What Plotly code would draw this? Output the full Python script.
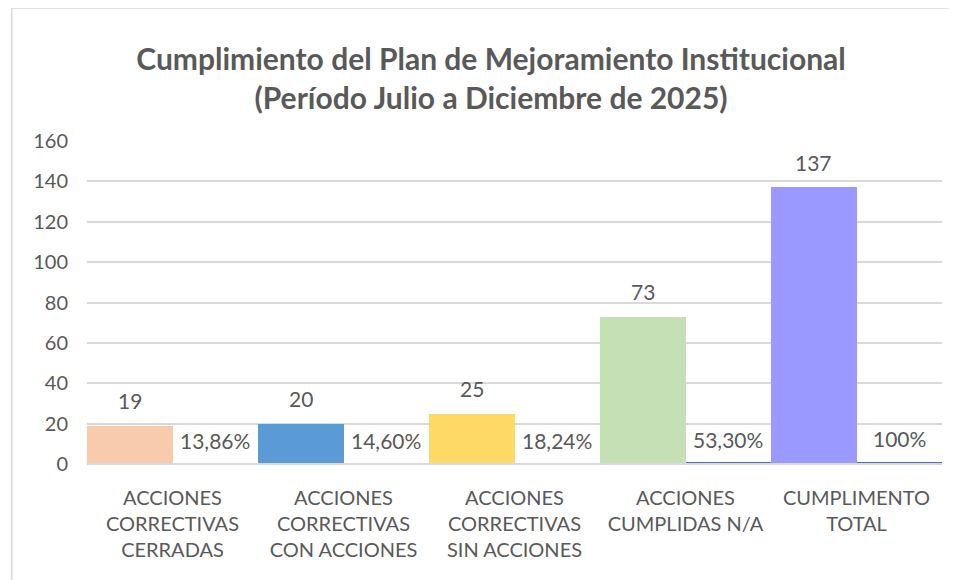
import plotly.graph_objects as go

categories = ["ACCIONES<br>CORRECTIVAS<br>CERRADAS", "ACCIONES<br>CORRECTIVAS<br>CON ACCIONES",
              "ACCIONES<br>CORRECTIVAS<br>SIN ACCIONES", "ACCIONES<br>CUMPLIDAS N/A", "CUMPLIMENTO<br>TOTAL"]
counts = [19, 20, 25, 73, 137]
percents = [0.1386, 0.1460, 0.1824, 0.5330, 1.0]
percent_labels = ["13,86%", "14,60%", "18,24%", "53,30%", "100%"]
count_colors = ["#F8CBAD", "#5B9BD5", "#FFD966", "#C5E0B4", "#9999FF"]
pct_color = "#4472C4"

FONT = "Lato"
GRAY = "#595959"
W, H = 949, 572
ML, MR, MT, MB = 79, 15, 133, 116
LABEL_SIZE = 20
DATA_SIZE = 21

fig = go.Figure()
fig.add_trace(go.Bar(x=categories, y=counts, marker=dict(color=count_colors, line=dict(width=0)),
                     name="Cantidad", hoverinfo="x+y"))
fig.add_trace(go.Bar(x=categories, y=percents, marker=dict(color=pct_color, line=dict(width=0)),
                     name="Porcentaje", hoverinfo="x+y"))

# data labels (Excel "outside end" style, with padding)
cat_px = (W - ML - MR) / len(categories)
annotations = []
for cat, c, p, pl in zip(categories, counts, percents, percent_labels):
    annotations.append(dict(x=cat, y=c, xref="x", yref="y", text=str(c), showarrow=False,
                            xshift=-cat_px / 4, yshift=25, yanchor="middle",
                            font=dict(family=FONT, size=DATA_SIZE, color=GRAY)))
    annotations.append(dict(x=cat, y=p, xref="x", yref="y", text=pl, showarrow=False,
                            xshift=cat_px / 4, yshift=23, yanchor="middle",
                            font=dict(family=FONT, size=DATA_SIZE, color=GRAY)))

fig.update_layout(
    width=W, height=H,
    margin=dict(l=ML, r=MR, t=MT, b=MB),
    paper_bgcolor="white", plot_bgcolor="white",
    barmode="group", bargap=0, bargroupgap=0,
    showlegend=False,
    title=dict(text="<b>Cumplimiento del Plan de Mejoramiento Institucional<br>(Período Julio a Diciembre de 2025)</b>",
               x=0.509, xref="container", xanchor="center", y=0.892, yanchor="middle",
               font=dict(family=FONT, size=30, color=GRAY)),
    font=dict(family=FONT, color=GRAY),
    annotations=annotations,
    shapes=[dict(type="rect", xref="paper", yref="paper", x0=-0.088, x1=1.05, y0=-0.5, y1=1.412,
                 line=dict(color="#D9D9D9", width=1.5), fillcolor="rgba(0,0,0,0)", layer="below")],
)
fig.update_yaxes(range=[0, 160], dtick=20, showgrid=True, gridcolor="#D9D9D9", gridwidth=1.5,
                 zeroline=True, zerolinecolor="#D9D9D9", zerolinewidth=1.5,
                 zerolinelayer="above traces",
                 tickfont=dict(family=FONT, size=LABEL_SIZE, color=GRAY), ticks="", ticklen=0,
                 ticklabelstandoff=18, showline=False, fixedrange=True)
fig.update_xaxes(tickfont=dict(family=FONT, size=LABEL_SIZE, color=GRAY), showline=False, ticks="",
                 ticklabelstandoff=20, fixedrange=True)

fig.write_html("out.html")
